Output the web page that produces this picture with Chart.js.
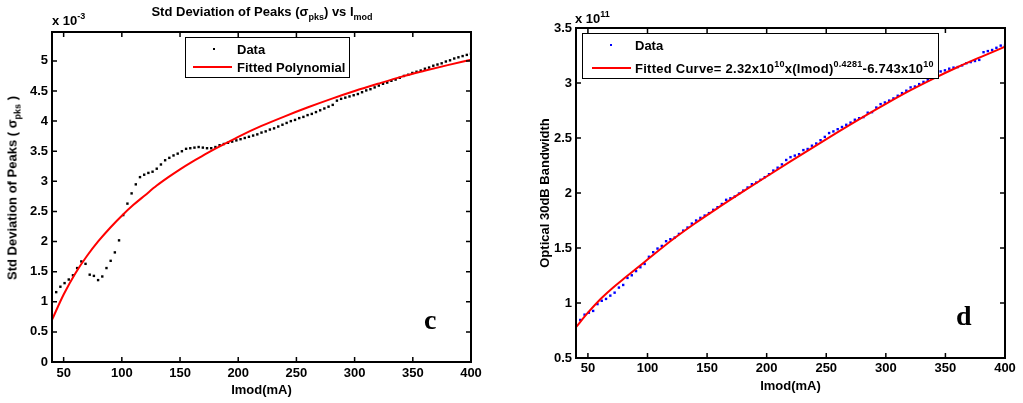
<!DOCTYPE html>
<html>
<head>
<meta charset="utf-8">
<script src="https://cdn.jsdelivr.net/npm/chart.js@4.4.1/dist/chart.umd.min.js"></script>
<style>
  html, body { margin:0; padding:0; background:#fff; }
  body { width:1023px; height:403px; position:relative; overflow:hidden;
         font-family:"Liberation Sans", Arial, sans-serif; font-weight:bold; color:#000; }
  canvas { position:absolute; top:0; }
  .t { position:absolute; white-space:nowrap; font-size:13px; line-height:13px; }
  .t sub, .t sup { font-size:9px; line-height:0; }
  .t sub { vertical-align:-4px; }
  .t sup { vertical-align:6px; }
  .lg { position:absolute; box-sizing:border-box; border:1.5px solid #000; background:#fff; }
  .big { position:absolute; font-family:"Liberation Serif", "Times New Roman", serif; font-weight:bold; font-size:28px; line-height:28px; }
</style>
</head>
<body>
<canvas id="c1" width="512" height="403" style="left:0"></canvas>
<canvas id="c2" width="511" height="403" style="left:512px"></canvas>

<div class="t" style="left:262px;top:11px;transform:translate(-50%,-50%)">Std Deviation of Peaks (σ<sub>pks</sub>) vs I<sub>mod</sub></div>
<div class="t" style="left:52px;top:14px">x 10<sup>-3</sup></div>
<div class="t" style="left:12px;top:188px;transform:translate(-50%,-50%) rotate(-90deg)">Std Deviation of Peaks ( σ<sub>pks</sub> )</div>
<div class="lg" style="left:185px;top:37px;width:165px;height:41px">
  <div style="position:absolute;left:27px;top:10px;width:2px;height:2px;background:#000"></div>
  <div class="t" style="left:51px;top:5px">Data</div>
  <div style="position:absolute;left:7px;top:28px;width:39px;height:2px;background:#f00"></div>
  <div class="t" style="left:51px;top:23px">Fitted Polynomial</div>
</div>
<div class="big" style="left:424px;top:306px">c</div>

<div class="t" style="left:575px;top:12px">x 10<sup>11</sup></div>
<div class="lg" style="left:582px;top:33px;width:357px;height:46px">
  <div style="position:absolute;left:27px;top:10px;width:2px;height:2px;background:#00f"></div>
  <div class="t" style="left:52px;top:5px">Data</div>
  <div style="position:absolute;left:9px;top:33px;width:39px;height:2px;background:#f00"></div>
  <div class="t" style="left:52px;top:28px;letter-spacing:0.25px">Fitted Curve= 2.32x10<sup>10</sup>x(Imod)<sup>0.4281</sup>-6.743x10<sup>10</sup></div>
</div>
<div class="big" style="left:956px;top:302px">d</div>

<script>
// ---------- data ----------
const xTicks = [50, 100, 150, 200, 250, 300, 350, 400];
const leftYTicks = [0, 0.5, 1, 1.5, 2, 2.5, 3, 3.5, 4, 4.5, 5];
const rightYTicks = [0.5, 1, 1.5, 2, 2.5, 3, 3.5];

const imodData = [43.6,47.2,50.8,54.4,58.0,61.6,65.2,68.8,72.4,76.0,79.6,83.2,86.8,90.4,94.0,97.6,101.2,104.8,108.4,112.0,
  115.6,119.2,122.8,126.4,130.0,133.6,137.2,140.8,144.4,148.0,151.6,155.2,158.8,162.4,166.0,169.6,173.2,176.8,180.4,184.0,
  187.6,191.2,194.8,198.4,202.0,205.6,209.2,212.8,216.4,220.0,223.6,227.2,230.8,234.4,238.0,241.6,245.2,248.8,252.4,256.0,
  259.6,263.2,266.8,270.4,274.0,277.6,281.2,284.8,288.4,292.0,295.6,299.2,302.8,306.4,310.0,313.6,317.2,320.8,324.4,328.0,
  331.6,335.2,338.8,342.4,346.0,349.6,353.2,356.8,360.4,364.0,367.6,371.2,374.8,378.4,382.0,385.6,389.2,392.8,396.4,400.0];

// Std deviation of peaks (x1e-3)
const sigmaData = [1.16,1.25,1.31,1.37,1.44,1.56,1.67,1.63,1.45,1.43,1.36,1.42,1.56,1.68,1.82,2.02,2.44,2.63,2.80,2.95,
  3.07,3.11,3.14,3.16,3.21,3.28,3.35,3.39,3.43,3.46,3.50,3.54,3.55,3.56,3.57,3.56,3.55,3.55,3.57,3.60,
  3.62,3.64,3.66,3.68,3.70,3.72,3.74,3.76,3.78,3.81,3.83,3.86,3.88,3.91,3.94,3.97,4.00,4.02,4.05,4.07,
  4.10,4.12,4.15,4.18,4.21,4.24,4.27,4.34,4.37,4.39,4.41,4.43,4.45,4.48,4.51,4.53,4.56,4.59,4.62,4.64,
  4.67,4.69,4.72,4.75,4.77,4.80,4.82,4.84,4.87,4.89,4.92,4.94,4.96,4.99,5.01,5.04,5.06,5.08,5.10,5.12];

const sigmaFitX = [40,50,60,70,80,90,100,110,120,130,140,150,160,170,180,190,200,220,240,260,280,300,320,340,360,380,400];
const sigmaFitY = [0.70,1.12,1.47,1.76,2.01,2.23,2.43,2.61,2.77,2.93,3.07,3.20,3.32,3.43,3.54,3.64,3.74,3.92,4.08,4.23,4.37,4.50,4.62,4.735,4.835,4.93,5.02];

// Optical 30dB bandwidth (x1e11)
const bwData = [0.846,0.894,0.912,0.928,0.99,1.02,1.037,1.067,1.094,1.14,1.164,1.228,1.252,1.29,1.325,1.355,1.42,1.462,1.495,1.519,
  1.562,1.58,1.595,1.628,1.658,1.686,1.722,1.75,1.774,1.795,1.817,1.847,1.871,1.90,1.938,1.952,1.968,1.995,2.022,2.05,
  2.08,2.095,2.12,2.144,2.171,2.204,2.23,2.26,2.30,2.326,2.34,2.353,2.39,2.40,2.43,2.45,2.48,2.51,2.545,2.56,
  2.58,2.60,2.62,2.64,2.666,2.68,2.69,2.73,2.735,2.777,2.808,2.823,2.84,2.86,2.884,2.908,2.93,2.96,2.968,2.99,
  3.01,3.03,3.06,3.08,3.105,3.115,3.13,3.14,3.145,3.16,3.18,3.19,3.20,3.21,3.28,3.29,3.30,3.32,3.34,3.34];

const bwFitX = [40,50,60,70,80,100,120,140,160,180,200,220,240,260,280,300,320,340,360,380,400];
const bwFitY = [0.78,0.912,1.03,1.13,1.22,1.395,1.568,1.725,1.871,2.012,2.150,2.287,2.422,2.555,2.685,2.81,2.93,3.04,3.143,3.238,3.33];

// ---------- helpers ----------
const pts = (xs, ys) => xs.map((x, i) => ({x, y: ys[i]}));
const FONT = {family: '"Liberation Sans", Arial, sans-serif', size: 13, weight: 'bold'};

const frame = {
  id: 'frame',
  afterDatasetsDraw(chart) {
    const {ctx, chartArea: a, scales: {x, y}} = chart;
    const L = 5;
    ctx.save();
    ctx.strokeStyle = '#000';
    ctx.lineWidth = 1.5;
    ctx.beginPath();
    x.ticks.forEach(t => {
      const px = x.getPixelForValue(t.value);
      ctx.moveTo(px, a.bottom); ctx.lineTo(px, a.bottom - L);
      ctx.moveTo(px, a.top); ctx.lineTo(px, a.top + L);
    });
    y.ticks.forEach(t => {
      const py = y.getPixelForValue(t.value);
      ctx.moveTo(a.left, py); ctx.lineTo(a.left + L, py);
      ctx.moveTo(a.right, py); ctx.lineTo(a.right - L, py);
    });
    ctx.stroke();
    ctx.lineWidth = 2;
    ctx.strokeRect(a.left, a.top, a.right - a.left, a.bottom - a.top);
    ctx.restore();
  }
};

function makeChart(id, cfg) {
  return new Chart(document.getElementById(id), {
    type: 'scatter',
    data: {
      datasets: [
        { label: 'Fitted', data: cfg.fit, showLine: true, borderColor: '#ff0000', borderWidth: 2,
          pointRadius: 0, cubicInterpolationMode: 'monotone', order: 0 },
        { label: 'Data', data: cfg.data, pointStyle: 'rect', pointRadius: 1.7, borderWidth: 0,
          backgroundColor: cfg.dotColor, showLine: false, order: 1 }
      ]
    },
    options: {
      responsive: false, animation: false, devicePixelRatio: 1,
      layout: { padding: cfg.pad },
      plugins: { legend: { display: false }, tooltip: { enabled: false } },
      scales: {
        x: {
          type: 'linear', min: 40, max: 400,
          afterBuildTicks: s => { s.ticks = xTicks.map(v => ({value: v})); },
          afterFit: s => { s.height = cfg.xH; },
          grid: { display: false, drawTicks: false }, border: { display: false },
          ticks: { color: '#000', font: FONT, padding: cfg.xTickPad, maxRotation: 0, callback: v => String(v) },
          title: { display: true, text: 'Imod(mA)', color: '#000', font: FONT, padding: { top: 0, bottom: cfg.xTitlePad } }
        },
        y: {
          type: 'linear', min: cfg.yMin, max: cfg.yMax,
          afterBuildTicks: s => { s.ticks = cfg.yTicks.map(v => ({value: v})); },
          afterFit: s => { s.width = cfg.yW; },
          grid: { display: false, drawTicks: false }, border: { display: false },
          ticks: { color: '#000', font: FONT, padding: 4, callback: v => String(v) },
          title: cfg.yTitle
        }
      }
    },
    plugins: [frame]
  });
}

makeChart('c1', {
  fit: pts(sigmaFitX, sigmaFitY), data: pts(imodData, sigmaData), dotColor: '#000',
  pad: { left: 0, top: 32, right: 41, bottom: 0 },
  xH: 41, yW: 52, xTickPad: 4, xTitlePad: 5,
  yMin: 0, yMax: 5.48, yTicks: leftYTicks,
  yTitle: { display: false }
});

makeChart('c2', {
  fit: pts(bwFitX, bwFitY), data: pts(imodData, bwData), dotColor: '#0000ff',
  pad: { left: 0, top: 28, right: 18, bottom: 0 },
  xH: 45, yW: 64, xTickPad: 3, xTitlePad: 9,
  yMin: 0.5, yMax: 3.5, yTicks: rightYTicks,
  yTitle: { display: true, text: 'Optical 30dB Bandwidth', color: '#000', font: FONT, padding: { top: 26, bottom: 0 } }
});
</script>
</body>
</html>
